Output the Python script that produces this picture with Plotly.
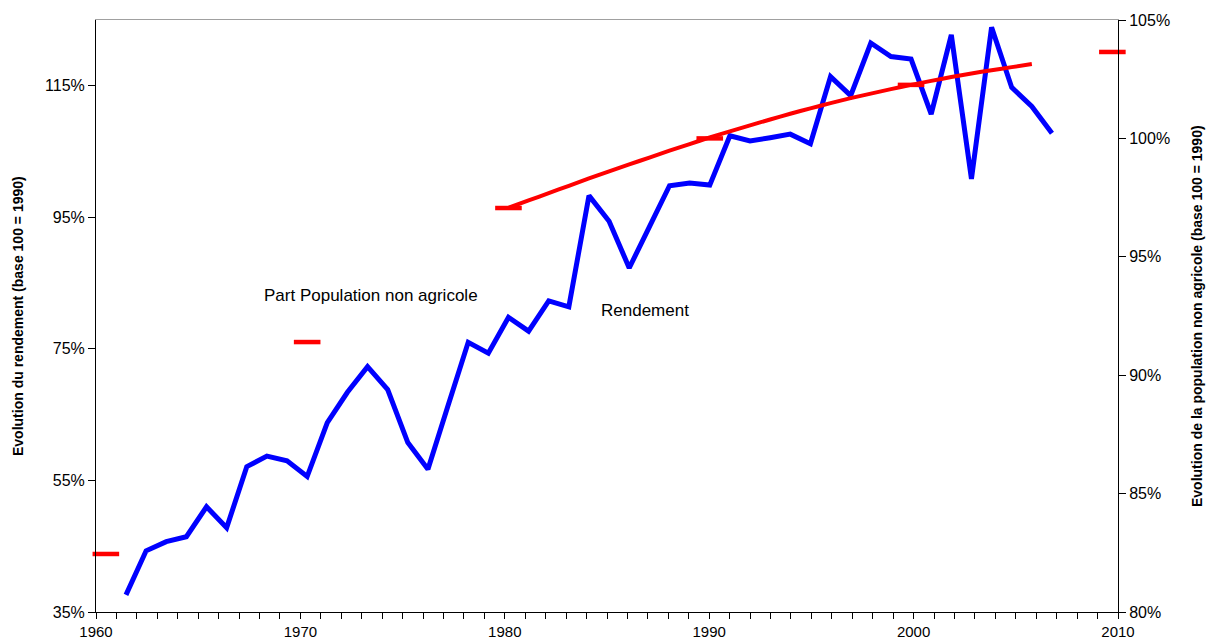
import plotly.graph_objects as go

# ---- data ----
years_rend = list(range(1961, 2008))
rendement = [37.6, 44.3, 45.7, 46.45, 51.0, 47.8, 57.1, 58.7, 58.0, 55.6,
             63.8, 68.4, 72.3, 68.8, 60.75, 56.7, 66.4, 76.0, 74.35, 79.8,
             77.7, 82.3, 81.4, 98.3, 94.4, 87.3, 93.55, 99.8, 100.2, 99.9,
             107.4, 106.6, 107.1, 107.65, 106.2, 116.4, 113.5, 121.5, 119.45, 119.05,
             110.7, 122.75, 100.85, 123.9, 114.75, 111.85, 107.8]

years_pop = [1960, 1970, 1980, 1990, 2000, 2010]
pop_non_agri = [82.45, 91.4, 97.06, 100.0, 102.26, 103.65]

years_trend = list(range(1980, 2007))
pop_trend = [97.07, 97.38, 97.69, 98.0, 98.31, 98.61, 98.9, 99.19, 99.48, 99.76,
             100.04, 100.3, 100.55, 100.8, 101.04, 101.27, 101.49, 101.7, 101.89, 102.08,
             102.26, 102.43, 102.59, 102.74, 102.88, 103.01, 103.14]

left_ticks = [35, 55, 75, 95, 115]
left_labels = ["35%", "55%", "75%", "95%", "115%"]
right_ticks = [80, 85, 90, 95, 100, 105]
right_labels = ["80%", "85%", "90%", "95%", "100%", "105%"]
x_ticks = [1960, 1970, 1980, 1990, 2000, 2010]
x_labels = ["1960", "1970", "1980", "1990", "2000", "2010"]

FONT = "Liberation Sans, Arial, sans-serif"
NARROW = "Liberation Sans Narrow, Arial Narrow, Liberation Sans, Arial, sans-serif"

fig = go.Figure()

fig.add_trace(go.Scatter(
    x=years_trend, y=pop_trend, xaxis="x2", yaxis="y2", mode="lines",
    line=dict(color="#FF0000", width=4, shape="spline", smoothing=0.6),
    showlegend=False, hoverinfo="skip"))

fig.add_trace(go.Scatter(
    x=years_pop, y=pop_non_agri, xaxis="x2", yaxis="y2", mode="markers",
    marker=dict(symbol="line-ew", size=19, line=dict(color="#FF0000", width=4.5)),
    showlegend=False, cliponaxis=False))

fig.add_trace(go.Scatter(
    x=years_rend, y=rendement, xaxis="x2", yaxis="y", mode="lines",
    line=dict(color="#0000FF", width=5), showlegend=False))

fig.update_layout(
    width=1206, height=639, autosize=False,
    margin=dict(l=96, r=88, t=20, b=27),
    paper_bgcolor="white", plot_bgcolor="white",
    font=dict(family=FONT, size=15, color="black"),
    xaxis=dict(range=[1960, 2010], tickvals=x_ticks, ticktext=x_labels,
               ticks="outside", ticklen=6, automargin=False,
               tickcolor="black", showline=True, linecolor="black", linewidth=1,
               showgrid=False, zeroline=False,
               minor=dict(dtick=1, tick0=1960, ticks="outside", ticklen=6, tickcolor="black"),
               tickfont=dict(size=15)),
    xaxis2=dict(range=[1959.51, 2010.28], overlaying="x", side="top", anchor="y",
                showticklabels=False, ticks="", showgrid=False, zeroline=False,
                automargin=False, showline=True, linecolor="#A0A0A0", linewidth=1),
    yaxis=dict(range=[35, 125], tickvals=left_ticks, ticktext=left_labels,
               ticks="outside", automargin=False,
               ticklen=7, tickcolor="black", showline=True, linecolor="black",
               showgrid=False, zeroline=False, tickfont=dict(size=16)),
    yaxis2=dict(range=[80, 105], tickvals=right_ticks, ticktext=right_labels,
                ticks="outside", automargin=False,
                ticklen=7, tickcolor="black", showline=True, linecolor="black",
                overlaying="y", side="right", anchor="x",
                showgrid=False, zeroline=False, tickfont=dict(size=16)),
    annotations=[
        dict(text="<b>Evolution du rendement (base 100 = 1990)</b>", xref="paper", yref="paper",
             x=0, y=0.5, xshift=-78, xanchor="center", yanchor="middle", textangle=-90,
             showarrow=False, font=dict(family=NARROW, size=14)),
        dict(text="<b>Evolution de la population non agricole (base 100 = 1990)</b>",
             xref="paper", yref="paper", x=1, y=0.5, xshift=79, xanchor="center",
             yanchor="middle", textangle=-90,
             showarrow=False, font=dict(family=NARROW, size=14)),
        dict(text="Part Population non agricole", xref="x", yref="y", x=1973.45, y=83.06,
             showarrow=False, font=dict(size=17)),
        dict(text="Rendement", xref="x", yref="y", x=1986.86, y=80.8,
             showarrow=False, font=dict(size=17)),
    ],
)

fig.write_html("out.html", config={"displayModeBar": False},
               post_script="document.body.style.margin='0';")
